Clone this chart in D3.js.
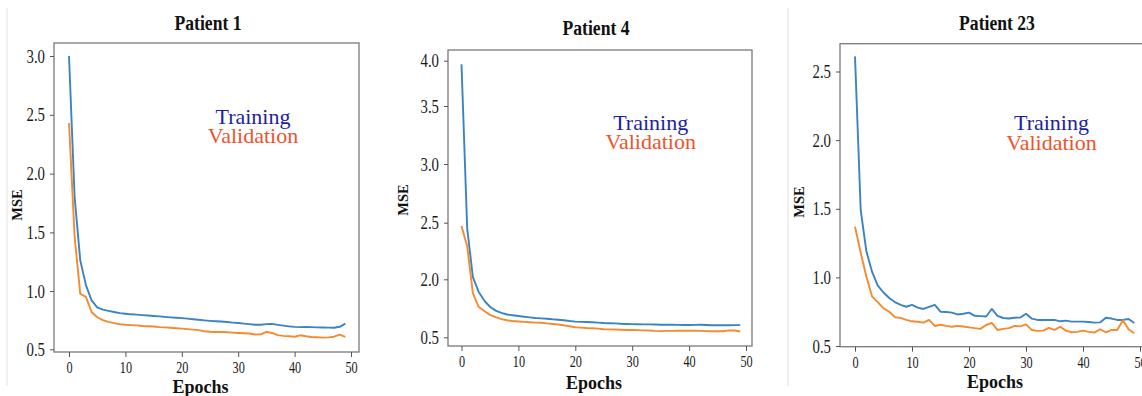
<!DOCTYPE html>
<html>
<head>
<meta charset="utf-8">
<script src="https://cdn.jsdelivr.net/npm/d3@7/dist/d3.min.js"></script>
<style>
  html, body { margin: 0; padding: 0; background: #fff; }
  svg { display: block; }
</style>
</head>
<body>
<svg id="chart" width="1142" height="396"></svg>
<script>
// Loss curves (MSE per epoch) for three patients
const epochs = d3.range(50);

const p1Train = [3.00, 1.80, 1.26, 1.05, 0.92, 0.86, 0.84, 0.83, 0.82, 0.81,
  0.805, 0.80, 0.797, 0.793, 0.79, 0.786, 0.782, 0.778, 0.774, 0.77,
  0.767, 0.763, 0.758, 0.753, 0.748, 0.744, 0.741, 0.738, 0.734, 0.729,
  0.725, 0.72, 0.716, 0.71, 0.71, 0.716, 0.718, 0.71, 0.703, 0.697,
  0.692, 0.69, 0.691, 0.69, 0.688, 0.687, 0.686, 0.685, 0.693, 0.72];
const p1Valid = [2.43, 1.46, 0.975, 0.95, 0.82, 0.775, 0.75, 0.735, 0.725, 0.715,
  0.71, 0.707, 0.705, 0.70, 0.698, 0.695, 0.69, 0.688, 0.685, 0.681,
  0.677, 0.673, 0.669, 0.664, 0.655, 0.65, 0.649, 0.648, 0.646, 0.643,
  0.64, 0.638, 0.635, 0.627, 0.628, 0.65, 0.64, 0.622, 0.615, 0.612,
  0.608, 0.62, 0.612, 0.606, 0.603, 0.60, 0.602, 0.608, 0.625, 0.607];

const p4Train = [3.96, 2.45, 2.02, 1.68, 1.45, 1.29, 1.19, 1.13, 1.09, 1.07,
  1.05, 1.03, 1.015, 1.00, 0.99, 0.98, 0.965, 0.955, 0.94, 0.92,
  0.905, 0.90, 0.895, 0.89, 0.88, 0.87, 0.865, 0.86, 0.85, 0.845,
  0.84, 0.838, 0.835, 0.833, 0.83, 0.826, 0.826, 0.824, 0.822, 0.82,
  0.82, 0.822, 0.825, 0.818, 0.812, 0.815, 0.812, 0.81, 0.815, 0.815];
const p4Valid = [2.47, 2.29, 1.64, 1.29, 1.18, 1.08, 1.02, 0.97, 0.94, 0.92,
  0.91, 0.90, 0.89, 0.88, 0.875, 0.86, 0.845, 0.83, 0.81, 0.785,
  0.76, 0.75, 0.74, 0.735, 0.725, 0.71, 0.705, 0.70, 0.695, 0.69,
  0.69, 0.685, 0.68, 0.675, 0.665, 0.66, 0.665, 0.665, 0.668, 0.67,
  0.67, 0.668, 0.665, 0.66, 0.655, 0.655, 0.655, 0.68, 0.675, 0.65];

const p23Train = [2.61, 1.49, 1.19, 1.04, 0.94, 0.89, 0.85, 0.82, 0.80, 0.786,
  0.80, 0.78, 0.77, 0.785, 0.80, 0.75, 0.748, 0.743, 0.73, 0.735,
  0.743, 0.72, 0.718, 0.715, 0.77, 0.72, 0.704, 0.70, 0.706, 0.708,
  0.735, 0.70, 0.69, 0.69, 0.69, 0.69, 0.68, 0.685, 0.678, 0.678,
  0.678, 0.675, 0.67, 0.672, 0.706, 0.70, 0.69, 0.69, 0.697, 0.668];
const p23Valid = [1.37, 1.18, 1.005, 0.86, 0.82, 0.775, 0.75, 0.71, 0.705, 0.69,
  0.68, 0.677, 0.67, 0.69, 0.646, 0.655, 0.647, 0.64, 0.647, 0.642,
  0.636, 0.63, 0.625, 0.653, 0.668, 0.617, 0.625, 0.63, 0.646, 0.643,
  0.658, 0.617, 0.61, 0.612, 0.632, 0.617, 0.64, 0.612, 0.60, 0.603,
  0.612, 0.603, 0.598, 0.622, 0.60, 0.617, 0.617, 0.687, 0.622, 0.593];

const titles = ["Patient 1", "Patient 4", "Patient 23"];
const xTicks = [0, 10, 20, 30, 40, 50];
const yTicks1 = [0.5, 1.0, 1.5, 2.0, 2.5, 3.0];
const yTicks4 = [0.5, 2.0, 2.5, 3.0, 3.5, 4.0];
const yTicks23 = [0.5, 1.0, 1.5, 2.0, 2.5];
const seriesNames = ["Training", "Validation"];

// Panel layout (pixels)
const panels = [
  {
    title: titles[0], train: p1Train, valid: p1Valid, yTicks: yTicks1,
    box: { l: 54, t: 43, r: 359, b: 352 },
    xRange: [69, 351], yRange: [349.3, 291, 232.4, 173.6, 114.8, 56],
    titlePos: [208, 30], legendPos: [253, 123.5, 143],
    msePos: [17, 205], epochsPos: [200.5, 393]
  },
  {
    title: titles[1], train: p4Train, valid: p4Valid, yTicks: yTicks4,
    box: { l: 448, t: 50, r: 752, b: 346 },
    xRange: [461.5, 746], yRange: [337.3, 279.3, 222.7, 164, 106, 60.7],
    titlePos: [596, 34.5], legendPos: [650.7, 129.5, 149.3],
    msePos: [403, 200], epochsPos: [594, 389]
  },
  {
    title: titles[2], train: p23Train, valid: p23Valid, yTicks: yTicks23,
    box: { l: 840, t: 43.7, r: 1152, b: 346.7 },
    xRange: [855, 1140], yRange: [346, 277.4, 208.8, 140.1, 71.5],
    titlePos: [997, 29.5], legendPos: [1051.5, 129.5, 149.5],
    msePos: [798.5, 202], epochsPos: [995, 388]
  }
];

const colors = { train: "#3a84c3", valid: "#f68a2e", trainText: "#1e1e9e", validText: "#f0522a" };
const serif = "'Liberation Serif', 'Times New Roman', serif";

const svg = d3.select("#chart");
svg.append("rect").attr("width", 1142).attr("height", 396).attr("fill", "#fff");

// faint outlines of the individual sub-figures
svg.append("line").attr("x1", 7).attr("x2", 7).attr("y1", 8).attr("y2", 386)
  .attr("stroke", "#e2e2e2").attr("stroke-width", 1);
svg.append("line").attr("x1", 788).attr("x2", 788).attr("y1", 8).attr("y2", 386)
  .attr("stroke", "#e2e2e2").attr("stroke-width", 1);

panels.forEach(p => {
  const g = svg.append("g");
  const x = d3.scaleLinear().domain([0, 50]).range(p.xRange);
  const y = d3.scaleLinear().domain(p.yTicks).range(p.yRange);

  // plot frame
  g.append("rect")
    .attr("x", p.box.l).attr("y", p.box.t)
    .attr("width", p.box.r - p.box.l).attr("height", p.box.b - p.box.t)
    .attr("fill", "none").attr("stroke", "#7a7a7a").attr("stroke-width", 1.3);

  // y axis
  const ySx = 0.78;
  const yAxis = g.append("g")
    .attr("transform", `translate(${p.box.l},0)`)
    .call(d3.axisLeft(y).tickValues(p.yTicks).tickFormat(d3.format(".1f")).tickSize(4).tickPadding(5));
  yAxis.select(".domain").remove();
  yAxis.selectAll(".tick line").attr("stroke", "#555");
  yAxis.selectAll(".tick text")
    .attr("font-family", serif).attr("font-size", 19).attr("fill", "#1a1a1a")
    .attr("x", -9 / ySx)
    .attr("transform", `scale(${ySx},1)`);

  // x axis
  const xSx = 0.72;
  const xAxis = g.append("g")
    .attr("transform", `translate(0,${p.box.b})`)
    .call(d3.axisBottom(x).tickValues(xTicks).tickFormat(d3.format("d")).tickSize(5).tickPadding(4));
  xAxis.select(".domain").remove();
  xAxis.selectAll(".tick line").attr("stroke", "#555");
  xAxis.selectAll(".tick text")
    .attr("font-family", serif).attr("font-size", 17).attr("fill", "#1a1a1a")
    .attr("transform", `scale(${xSx},1)`);

  // curves
  const line = d3.line().x((d, i) => x(epochs[i])).y(d => y(d));
  g.append("path").datum(p.train).attr("d", line)
    .attr("fill", "none").attr("stroke", colors.train).attr("stroke-width", 1.9)
    .attr("stroke-linejoin", "round");
  g.append("path").datum(p.valid).attr("d", line)
    .attr("fill", "none").attr("stroke", colors.valid).attr("stroke-width", 1.9)
    .attr("stroke-linejoin", "round");

  // title
  g.append("text")
    .attr("transform", `translate(${p.titlePos[0]},${p.titlePos[1]}) scale(0.84,1)`)
    .attr("text-anchor", "middle")
    .attr("font-family", serif).attr("font-weight", "bold").attr("font-size", 21)
    .attr("fill", "#111").text(p.title);

  // legend text
  g.append("text")
    .attr("x", p.legendPos[0]).attr("y", p.legendPos[1])
    .attr("text-anchor", "middle").attr("font-family", serif).attr("font-size", 22)
    .attr("fill", colors.trainText).text(seriesNames[0]);
  g.append("text")
    .attr("x", p.legendPos[0]).attr("y", p.legendPos[2])
    .attr("text-anchor", "middle").attr("font-family", serif).attr("font-size", 22)
    .attr("fill", colors.validText).text(seriesNames[1]);

  // axis titles
  g.append("text")
    .attr("transform", `translate(${p.msePos[0] + 5},${p.msePos[1]}) rotate(-90)`)
    .attr("text-anchor", "middle").attr("font-family", serif)
    .attr("font-weight", "bold").attr("font-size", 14.5).attr("fill", "#111")
    .text("MSE");
  g.append("text")
    .attr("x", p.epochsPos[0]).attr("y", p.epochsPos[1])
    .attr("text-anchor", "middle").attr("font-family", serif)
    .attr("font-weight", "bold").attr("font-size", 18).attr("fill", "#111")
    .text("Epochs");
});
</script>
</body>
</html>
